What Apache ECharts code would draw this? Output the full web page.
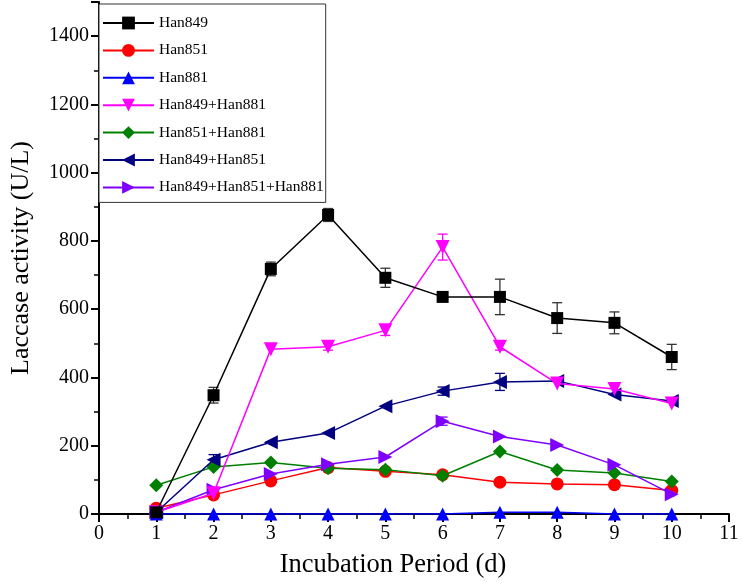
<!DOCTYPE html>
<html><head><meta charset="utf-8">
<script src="https://cdn.jsdelivr.net/npm/echarts@6/dist/echarts.min.js"></script>
<style>html,body{margin:0;padding:0;background:#fff}#c{width:742px;height:584px}</style>
</head><body><div id="c"></div>
<script>
const days = [1,2,3,4,5,6,7,8,9,10];
const seriesNames = ['Han849','Han851','Han881','Han849+Han881','Han851+Han881','Han849+Han851','Han849+Han851+Han881'];
const han849 = [5,348,718,876,692,636,636,574,560,460];
const han849Err = [0,23,20,19,28,0,52,45,32,37];
const han851 = [17,56,97,136,125,115,93,88,86,69];
const han851Err = [0,0,0,0,0,0,0,0,0,0];
const han881 = [0,0,0,0,0,0,5,5,0,0];
const han881Err = [0,0,0,0,0,0,0,0,0,0];
const han849_881 = [5,61,483,490,538,782,490,382,366,324];
const han849_881Err = [0,0,0,10,15,38,10,0,15,0];
const han851_881 = [84,138,151,134,130,112,183,129,120,95];
const han851_881Err = [0,0,0,0,0,0,0,0,0,0];
const han849_851 = [5,159,210,237,316,360,387,390,350,331];
const han849_851Err = [0,15,0,0,0,12,25,0,0,0];
const hanAll = [5,71,117,146,167,272,227,202,144,58];
const hanAllErr = [0,0,0,0,0,12,0,0,0,0];
const xTicks = [0,1,2,3,4,5,6,7,8,9,10,11];
const yTicks = [0,200,400,600,800,1000,1200,1400];

const values = [han849,han851,han881,han849_881,han851_881,han849_851,hanAll];
const errs = [han849Err,han851Err,han881Err,han849_881Err,han851_881Err,han849_851Err,hanAllErr];
const colors = ['#000000','#ff0000','#0000ff','#ff00ff','#008000','#000080','#8000ff'];
const errColors = ['#333333','#ff0000','#0000ff','#ff00ff','#008000','#000080','#8000ff'];
const symbols = ['rect','circle','triangle','triangle','diamond','triangle','triangle'];
const rotates = [0,0,0,180,0,90,-90];
const sizes = [12,13,13,14,14,14,14];
const zs = [8,3,3,6,4,5,4];
const FONT = '"Liberation Serif","Times New Roman",serif';

const series = [];
seriesNames.forEach((n,i)=>{
  series.push({
    name:n, type:'line', data: days.map((d,k)=>[d, values[i][k]]),
    symbol:symbols[i], symbolRotate:rotates[i], symbolSize:sizes[i],
    itemStyle:{color:colors[i]}, lineStyle:{color:colors[i], width:1.5},
    z: zs[i], emphasis:{disabled:true}, animation:false
  });
  const ed = [];
  days.forEach((d,k)=>{ if(errs[i][k]>0) ed.push([d, values[i][k]-errs[i][k], values[i][k]+errs[i][k]]); });
  if(ed.length){
    series.push({
      name:n+'_err', type:'custom', data:ed, z:2, animation:false,
      renderItem:(params, api)=>{
        const x=api.value(0), lo=api.value(1), hi=api.value(2);
        const a=api.coord([x,hi]), b=api.coord([x,lo]); const w=5;
        const st={stroke:errColors[i], lineWidth:1.3};
        return {type:'group', children:[
          {type:'line', shape:{x1:a[0],y1:a[1],x2:b[0],y2:b[1]}, style:st},
          {type:'line', shape:{x1:a[0]-w,y1:a[1],x2:a[0]+w,y2:a[1]}, style:st},
          {type:'line', shape:{x1:b[0]-w,y1:b[1],x2:b[0]+w,y2:b[1]}, style:st}
        ]};
      }
    });
  }
});

const chart = echarts.init(document.getElementById('c'), null, {renderer:'canvas'});
chart.setOption({
  backgroundColor:'#fff',
  animation:false,
  grid:{left:93, right:13, top:2, bottom:68, containLabel:false},
  legend:{
    data:seriesNames, orient:'vertical', left:99, top:4,
    itemWidth:51, itemHeight:16, itemGap:11.4,
    padding:[11,2,7,3],
    backgroundColor:'#fff', borderColor:'#333', borderWidth:1,
    textStyle:{fontFamily:FONT, fontSize:15.5, color:'#000'}
  },
  xAxis:{
    type:'value', min:0, max:11, interval:1,
    name:'Incubation Period (d)', nameLocation:'middle', nameGap:38,
    nameTextStyle:{fontFamily:FONT, fontSize:26.5, color:'#000', padding:[0,42,0,0]},
    axisLine:{show:true, onZero:false, lineStyle:{color:'#000', width:2}},
    axisTick:{show:true, length:8, lineStyle:{color:'#000', width:2}},
    minorTick:{show:true, splitNumber:2, length:5, lineStyle:{color:'#000', width:1.5}},
    axisLabel:{fontFamily:FONT, fontSize:20, color:'#000', margin:10, formatter:v=>xTicks.includes(v)?String(v):''},
    splitLine:{show:false}
  },
  yAxis:{
    type:'value', min:0, max:1500, interval:200,
    name:'Laccase activity (U/L)', nameLocation:'middle', nameGap:65,
    nameTextStyle:{fontFamily:FONT, fontSize:26, color:'#000'},
    axisLine:{show:true, onZero:false, lineStyle:{color:'#000', width:2}},
    axisTick:{show:true, length:8, lineStyle:{color:'#000', width:2}},
    minorTick:{show:true, splitNumber:2, length:5, lineStyle:{color:'#000', width:1.5}},
    axisLabel:{fontFamily:FONT, fontSize:20, color:'#000', margin:10, showMaxLabel:false, formatter:v=>yTicks.includes(v)?String(v):''},
    splitLine:{show:false}
  },
  series: series
});
</script></body></html>
